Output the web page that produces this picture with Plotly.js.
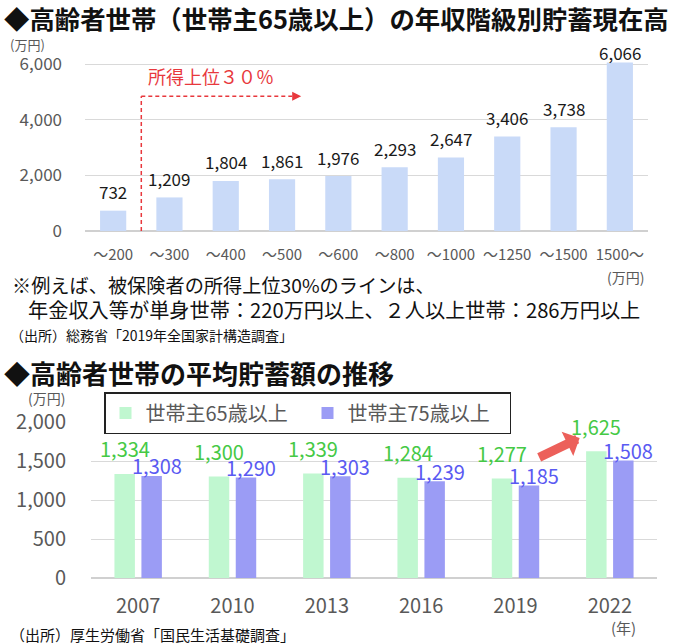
<!DOCTYPE html>
<html>
<head>
<meta charset="utf-8">
<script src="https://cdn.plot.ly/plotly-3.0.1.min.js"></script>
<style>
  html, body { margin: 0; padding: 0; background: #fff; }
  #chart { width: 683px; height: 644px; }
</style>
</head>
<body>
<div id="chart"></div>
<script>
// Savings of elderly households by annual income bracket (2019)
const incomeBands = ['～200', '～300', '～400', '～500', '～600', '～800', '～1000', '～1250', '～1500', '1500～'];
const savingsByIncome = [732, 1209, 1804, 1861, 1976, 2293, 2647, 3406, 3738, 6066];

// Average savings over time
const surveyYears = ['2007', '2010', '2013', '2016', '2019', '2022'];
const savings65 = [1334, 1300, 1339, 1284, 1277, 1625];
const savings75 = [1308, 1290, 1303, 1239, 1185, 1508];
const seriesNames = ['世帯主65歳以上', '世帯主75歳以上'];

const topTicks = [0, 2000, 4000, 6000];
const bottomTicks = [0, 500, 1000, 1500, 2000];

const W = 683, H = 644;
const px = p => p / W;          // pixel -> paper x
const py = p => 1 - p / H;      // pixel -> paper y

const FONT = '"Noto Sans CJK JP", "Noto Sans", sans-serif';
const GRAY = '#595959';
const GREEN_BAR = '#c0f7d0', GREEN_TXT = '#45c945';
const PURPLE_BAR = '#9b9cf5', PURPLE_TXT = '#5a5af2';
const RED = '#e8383d';

const fmt = v => v.toLocaleString('en-US');

// grouped bar geometry (category units)
const barW = 0.217, innerGap = 0.069;
const offA = -(barW + innerGap / 2), offB = innerGap / 2;

const traces = [
  {
    type: 'bar', x: incomeBands, y: savingsByIncome, xaxis: 'x', yaxis: 'y',
    marker: { color: '#c9daf8' }, showlegend: false, hoverinfo: 'x+y'
  },
  {
    type: 'bar', name: seriesNames[0], x: surveyYears, y: savings65, xaxis: 'x2', yaxis: 'y2',
    width: barW, offset: offA, marker: { color: GREEN_BAR }
  },
  {
    type: 'bar', name: seriesNames[1], x: surveyYears, y: savings75, xaxis: 'x2', yaxis: 'y2',
    width: barW, offset: offB, marker: { color: PURPLE_BAR }
  }
];

const annotations = [];

// value labels, upper chart
savingsByIncome.forEach((v, i) => {
  annotations.push({
    xref: 'x', yref: 'y', x: i, y: v, text: fmt(v), showarrow: false,
    yanchor: 'middle', yshift: v > 6000 ? 10 : 19,
    font: { family: FONT, size: 17, color: '#1a1a1a' }
  });
});

// value labels, lower chart
savings65.forEach((v, i) => {
  annotations.push({
    xref: 'x2', yref: 'y2', x: i + offA + barW / 2, y: v, text: fmt(v), showarrow: false,
    yanchor: 'middle', yshift: 25,
    font: { family: FONT, size: 20, color: GREEN_TXT }
  });
});
savings75.forEach((v, i) => {
  annotations.push({
    xref: 'x2', yref: 'y2', x: i + offB + barW / 2, y: v, text: fmt(v), showarrow: false,
    yanchor: 'middle', yshift: 10, xshift: 5,
    font: { family: FONT, size: 20, color: PURPLE_TXT }
  });
});

// headings and notes
const textNotes = [
  { t: '<b>◆高齢者世帯（世帯主65歳以上）の年収階級別貯蓄現在高</b>', x: 2, y: 18, s: 25.4, c: '#111' },
  { t: '(万円)', x: 8, y: 45, s: 13, c: GRAY },
  { t: '所得上位３０％', x: 146, y: 76, s: 18, c: RED },
  { t: '※例えば、被保険者の所得上位30%のラインは、', x: 10, y: 285, s: 19.2, c: '#111' },
  { t: '年金収入等が単身世帯：220万円以上、２人以上世帯：286万円以上', x: 26, y: 309, s: 20.2, c: '#111' },
  { t: '（出所）総務省「2019年全国家計構造調査」', x: 8, y: 335, s: 14, c: '#111' },
  { t: '<b>◆高齢者世帯の平均貯蓄額の推移</b>', x: 2, y: 373, s: 26, c: '#111' },
  { t: '(万円)', x: 26, y: 398, s: 14, c: GRAY },
  { t: '（出所）厚生労働省「国民生活基礎調査」', x: 8, y: 634, s: 15, c: '#111' }
];
textNotes.forEach(n => annotations.push({
  xref: 'paper', yref: 'paper', x: px(n.x), y: py(n.y), xanchor: 'left', yanchor: 'middle',
  text: n.t, showarrow: false, font: { family: FONT, size: n.s, color: n.c }
}));
annotations.push({
  xref: 'paper', yref: 'paper', x: px(646), y: py(277), xanchor: 'right', yanchor: 'middle',
  text: '(万円)', showarrow: false, font: { family: FONT, size: 14, color: GRAY }
});
annotations.push({
  xref: 'paper', yref: 'paper', x: px(638), y: py(627), xanchor: 'right', yanchor: 'middle',
  text: '(年)', showarrow: false, font: { family: FONT, size: 15, color: GRAY }
});

// arrowhead of the dashed "top 30%" marker
annotations.push({
  xref: 'x', yref: 'y', x: 3.34, y: 4850, axref: 'pixel', ayref: 'pixel', ax: -8, ay: 0,
  showarrow: true, arrowhead: 2, arrowsize: 1.2, arrowwidth: 1.5, arrowcolor: RED, text: ''
});

// thick arrow pointing at the 2022 rise
annotations.push({
  xref: 'x2', yref: 'y2', x: 4.68, y: 1795, axref: 'x2', ayref: 'y2', ax: 4.235, ay: 1538,
  showarrow: true, arrowhead: 1, arrowsize: 0.5, arrowwidth: 9, arrowcolor: '#ec605a', text: ''
});

const shapes = [
  { type: 'line', xref: 'x', yref: 'y', x0: 0.5, x1: 0.5, y0: 0, y1: 4850,
    line: { color: RED, width: 1.5, dash: '4px,3px' } },
  { type: 'line', xref: 'x', yref: 'y', x0: 0.5, x1: 3.18, y0: 4850, y1: 4850,
    line: { color: RED, width: 1.5, dash: '4px,3px' } }
];

const layout = {
  width: W, height: H,
  margin: { l: 0, r: 0, t: 0, b: 0 },
  paper_bgcolor: '#fff', plot_bgcolor: '#fff',
  font: { family: FONT, color: GRAY },
  barmode: 'group', bargap: 0.535,
  showlegend: true,
  legend: {
    x: px(104), y: py(392), xanchor: 'left', yanchor: 'top',
    orientation: 'h', bgcolor: '#fff', bordercolor: '#222', borderwidth: 1.5,
    entrywidth: 157, entrywidthmode: 'pixels',
    font: { family: FONT, size: 20, color: GRAY }
  },
  xaxis: {
    domain: [px(85), px(648)], anchor: 'y', type: 'category',
    showgrid: false, ticks: '', ticklabelstandoff: 13,
    tickfont: { family: FONT, size: 15, color: GRAY }, fixedrange: true
  },
  yaxis: {
    domain: [py(231), py(56)], anchor: 'x', range: [0, 6300],
    tickvals: topTicks, tickformat: ',', ticks: '', ticklabelstandoff: 22,
    gridcolor: '#d9d9d9', gridwidth: 1, zeroline: true, zerolinecolor: '#d0d0d0', zerolinewidth: 1.5,
    tickfont: { family: FONT, size: 17, color: GRAY }, fixedrange: true
  },
  xaxis2: {
    domain: [px(91), px(657)], anchor: 'y2', type: 'category',
    showgrid: false, ticks: '', ticklabelstandoff: 14,
    tickfont: { family: FONT, size: 20, color: GRAY }, fixedrange: true
  },
  yaxis2: {
    domain: [py(578), py(422)], anchor: 'x2', range: [0, 2000],
    tickvals: bottomTicks, tickformat: ',', ticks: '', ticklabelstandoff: 24,
    gridcolor: '#d9d9d9', gridwidth: 1, zeroline: true, zerolinecolor: '#d0d0d0', zerolinewidth: 1.5,
    tickfont: { family: FONT, size: 20, color: GRAY }, fixedrange: true
  },
  annotations: annotations,
  shapes: shapes
};

Plotly.newPlot('chart', traces, layout, { displayModeBar: false, staticPlot: true });
</script>
</body>
</html>
